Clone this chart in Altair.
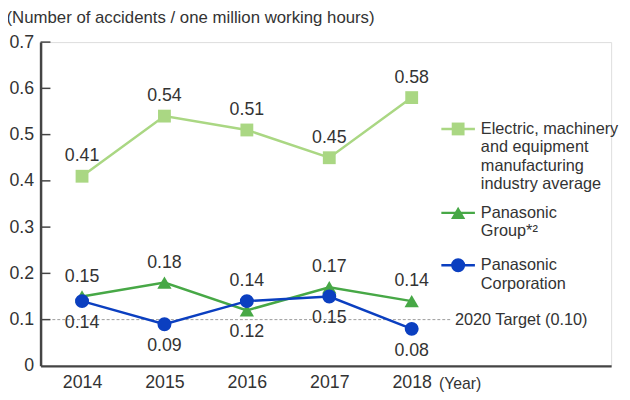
import altair as alt
import pandas as pd

years = [2014, 2015, 2016, 2017, 2018]
industry = [0.41, 0.54, 0.51, 0.45, 0.58]
group = [0.15, 0.18, 0.12, 0.17, 0.14]
corp = [0.14, 0.09, 0.14, 0.15, 0.08]
# label placement: 1 = above point, -1 = below point
industry_side = [1, 1, 1, 1, 1]
group_side = [1, 1, -1, 1, 1]
corp_side = [-1, -1, 1, -1, -1]
y_ticks = [0.1, 0.2, 0.3, 0.4, 0.5, 0.6, 0.7]
target = 0.10

FONT = "Liberation Sans"
TXT = "#333333"
C_IND = "#aad783"
C_GRP = "#47a846"
C_CORP = "#0b3fc0"

x_scale = alt.Scale(domain=[2013.497, 2020.42], nice=False, zero=False)
y_scale = alt.Scale(domain=[0, 0.7], nice=False)

def df_for(vals, side):
    return pd.DataFrame({"year": years, "value": vals, "side": side,
                         "label": [f"{v:.2f}" for v in vals]})

x_enc = alt.X("year:Q", scale=x_scale, axis=alt.Axis(
    values=years, format="d", grid=False, ticks=False, domainWidth=2.5,
    domainColor="#444444", labelFont=FONT, labelFontSize=18, labelColor=TXT,
    labelPadding=8, title="(Year)", titleFont=FONT, titleFontSize=16,
    titleFontWeight="normal", titleColor=TXT, titleX=403, titleY=18,
    titleAlign="left", titleBaseline="middle"))
y_enc = alt.Y("value:Q", scale=y_scale, axis=alt.Axis(
    values=[0] + y_ticks, format="~g", grid=False, ticks=False, domainWidth=2.5,
    domainColor="#444444", labelFont=FONT, labelFontSize=18, labelColor=TXT,
    labelPadding=7, title="(Number of accidents / one million working hours)",
    titleFont=FONT, titleFontSize=17, titleFontWeight="normal", titleColor=TXT,
    titleAngle=0, titleX=-35, titleY=-25, titleAlign="left",
    titleBaseline="middle"))

layers = []

# inward tick marks on y axis
tick_df = pd.DataFrame({"value": y_ticks})
layers.append(alt.Chart(tick_df).mark_rule(color="#444444", strokeWidth=1.5).encode(
    y=y_enc, x=alt.value(0), x2=alt.value(10)))

# target line
tgt_df = pd.DataFrame({"year": [2013.64], "year2": [2018.48], "value": [target]})
layers.append(alt.Chart(tgt_df).mark_rule(color="#9a9a9a", strokeWidth=1,
                                          strokeDash=[3, 2]).encode(
    x=x_enc, x2="year2:Q", y=y_enc))
tgt_txt = pd.DataFrame({"year": [2018.5], "value": [target]})
layers.append(alt.Chart(tgt_txt).mark_text(
    text="2020 Target (0.10)", align="left", baseline="middle", font=FONT,
    fontSize=16.5, color=TXT, dx=2).encode(x=x_enc, y=y_enc))

series = [
    (industry, industry_side, C_IND, "square", 169),
    (group, group_side, C_GRP, "triangle-up", 210),
    (corp, corp_side, C_CORP, "circle", 200),
]
for vals, side, col, shape, size in series:
    d = df_for(vals, side)
    base = alt.Chart(d)
    layers.append(base.mark_line(color=col, strokeWidth=2.5).encode(x=x_enc, y=y_enc))
    layers.append(base.mark_point(shape=shape, size=size, filled=True, opacity=1,
                                  color=col).encode(x=x_enc, y=y_enc))

for vals, side, col, shape, size in series:
    d = df_for(vals, side)
    base = alt.Chart(d)
    layers.append(base.mark_text(font=FONT, fontSize=18, color=TXT, dy=-20,
                                 baseline="middle").encode(
        x=x_enc, y=y_enc, text="label:N").transform_filter("datum.side > 0"))
    layers.append(base.mark_text(font=FONT, fontSize=18, color=TXT, dy=22,
                                 baseline="middle").encode(
        x=x_enc, y=y_enc, text="label:N").transform_filter("datum.side < 0"))

# manual legend
one = pd.DataFrame({"k": [0]})
legend_items = [
    (88, C_IND, "square", 169, ["Electric, machinery", "and equipment",
                                "manufacturing", "industry average"]),
    (173, C_GRP, "triangle-up", 210, ["Panasonic", "Group*\u00b2"]),
    (226, C_CORP, "circle", 200, ["Panasonic", "Corporation"]),
]
for ly, col, shape, size, lines in legend_items:
    b = alt.Chart(one)
    layers.append(b.mark_rule(color=col, strokeWidth=2.5).encode(
        x=alt.value(406), x2=alt.value(440), y=alt.value(ly)))
    layers.append(b.mark_point(shape=shape, size=size, filled=True, opacity=1,
                               color=col).encode(x=alt.value(423), y=alt.value(ly)))
    layers.append(b.mark_text(text=lines, align="left", baseline="middle",
                              font=FONT, fontSize=16.5, color=TXT,
                              lineHeight=18.7).encode(
        x=alt.value(446), y=alt.value(ly)))

chart = alt.layer(*layers).properties(
    width=578, height=328,
    autosize=alt.AutoSizeParams(type="none"),
    padding={"left": 33, "top": 32, "right": 11, "bottom": 30},
).configure_view(stroke=None).configure(background="white")

chart.save("out.html", embed_options={"renderer": "svg", "actions": False})
